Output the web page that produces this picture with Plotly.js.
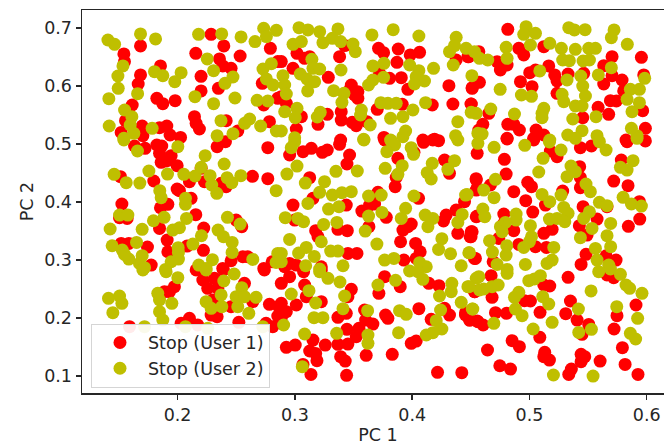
<!DOCTYPE html>
<html>
<head>
<meta charset="utf-8">
<script src="https://cdn.plot.ly/plotly-3.0.1.min.js"></script>
<style>html,body{margin:0;padding:0;background:#fff;overflow:hidden;width:664px;height:445px}#chart{width:674px;height:445px}</style>
</head>
<body>
<div id="chart"></div>
<script>
const seriesNames = ["Stop (User 1)", "Stop (User 2)"];
const xTitle = "PC 1";
const yTitle = "PC 2";
const xTicks = [0.2, 0.3, 0.4, 0.5, 0.6];
const yTicks = [0.1, 0.2, 0.3, 0.4, 0.5, 0.6, 0.7];

const user1Points = [
[.1542,.6552],[.1684,.6690],[.2286,.6891],[.2394,.6690],[.2155,.6563],[.2533,.6517],[.2791,.6650],[.2357,.6466],[.1547,.6420],[.1854,.6345],[.1684,.6190],[.1664,.6034],[.2200,.6167],[.2200,.5914],[.2348,.5960],[.2385,.6345],[.2456,.6305],[.1823,.5787],[.1874,.5695],[.1979,.5747],[.1613,.5672],[.2144,.5471],[.2158,.5356],[.2186,.5258],[.2414,.5402],[.2783,.5385],[.2722,.6046],[.2734,.5672],[.2854,.5787],[.1556,.5402],[.1698,.5310],[.1519,.5200],[.1908,.5310],[.1846,.5281],[.1936,.5155],[.2025,.5114],[.2513,.5224],[.1704,.5143],[.2854,.6420],
[.3018,.6563],[.3126,.6506],[.3083,.6477],[.3381,.6506],[.3424,.6696],[.2884,.6420],[.2984,.6305],[.3285,.6149],[.3713,.6650],[.3756,.6575],[.3881,.6638],[.3983,.6535],[.4063,.6581],[.3870,.6408],[.3722,.6218],[.3807,.6132],[.3907,.6144],[.3963,.5942],[.3481,.6017],[.3537,.5902],[.3537,.5787],[.3509,.5845],[.3466,.5931],[.4313,.6006],[.4347,.5689],[.4512,.5971],[.4503,.5689],[.4475,.6506],[.4375,.6448],[.3702,.5597],[.3915,.5683],[.4171,.5672],[.3395,.5557],[.3395,.5413],[.3197,.5339],[.3276,.5511],[.3055,.5471],[.3012,.5258],[.3489,.5373],[.3523,.5316],[.3614,.5385],[.2927,.5701],[.2884,.5816],[.3759,.5114],[.4191,.5080],[.4091,.5068],[.3390,.5068],
[.4815,.6977],[.5122,.6678],[.4909,.6650],[.4951,.6535],[.4724,.6419],[.4752,.6276],[.4809,.6362],[.4483,.6506],[.4568,.6592],[.5704,.6506],[.5954,.6494],[.5633,.6351],[.5704,.6178],[.5789,.6103],[.5633,.6034],[.5974,.6190],[.5164,.6345],[.5051,.6276],[.5002,.6230],[.5215,.6190],[.5235,.6086],[.4923,.6075],[.5022,.5988],[.5329,.6207],[.5462,.6218],[.5235,.5873],[.4573,.6063],[.4511,.5959],[.4502,.5689],[.4653,.5528],[.5690,.5747],[.5741,.5741],[.5585,.5632],[.5675,.5511],[.5965,.5574],[.5803,.5914],[.5454,.5454],[.4602,.5339],[.4815,.5339],[.4866,.5339],[.4914,.5241],[.5056,.5241],[.5122,.5155],[.5036,.5097],[.4809,.5097],[.5988,.5270],[.5823,.5068],[.4568,.5241],
[.1633,.4965],[.1723,.4925],[.1823,.4983],[.1865,.4965],[.1846,.4839],[.1945,.4799],[.1931,.4724],[.1860,.4684],[.1902,.4707],[.1996,.4626],[.2337,.4954],[.2408,.5040],[.2769,.4936],[.1513,.4436],[.1797,.4362],[.2101,.4350],[.2229,.4350],[.2201,.4580],[.2371,.4321],[.2414,.4264],[.2638,.4442],[.2769,.4402],[.1996,.4223],[.2016,.4195],[.2115,.4063],[.1917,.3959],[.1854,.3901],[.1525,.3965],[.1505,.3729],[.1570,.3717],[.2155,.3781],[.1846,.3545],[.2223,.3551],[.2499,.3689],[.2547,.3574],[.1911,.3344],[.1519,.3286],[.1584,.3286],[.1743,.3223],[.2081,.3240],[.2220,.3166],[.1917,.3142],[.1775,.2913],[.2385,.2855],[.2456,.2987],[.2556,.3056],[.2598,.3056],[.2735,.2855],[.2806,.2970],
[.2955,.4810],[.3069,.4868],[.3140,.4925],[.3234,.4856],[.3276,.4896],[.3381,.4994],[.3466,.4810],[.3444,.4655],[.3765,.5069],[.3878,.4752],[.4015,.4856],[.4097,.5028],[.4176,.5069],[.4225,.5057],[.4276,.4724],[.4318,.4494],[.3864,.4425],[.3855,.4264],[.3126,.4419],[.3154,.4063],[.2984,.3947],[.2998,.3689],[.3438,.3947],[.3708,.4166],[.3679,.3965],[.3637,.3947],[.3571,.3844],[.3779,.3735],[.4054,.4063],[.3992,.3620],[.3963,.3574],[.3921,.3516],[.4290,.3775],[.4267,.3672],[.4375,.3861],[.4389,.3459],[.4503,.3487],[.4494,.3401],[.4546,.4379],[.4546,.4206],[.4546,.3746],[.4446,.4005],[.3631,.3574],[.3447,.3505],[.3367,.3528],[.3177,.3505],[.3197,.3401],[.3901,.3315],[.4029,.3286],[.4068,.3142],[.4034,.3027],[.3929,.2999],[.3452,.3114],[.3529,.3114],[.4531,.3027],[.2955,.2941],[.3012,.2913],[.2913,.2884],[.3225,.2884],
[.4554,.4839],[.4809,.5086],[.5036,.5069],[.5434,.4936],[.5528,.4965],[.5832,.5040],[.5988,.5052],[.5178,.4879],[.5235,.4781],[.4786,.4735],[.4801,.4482],[.4545,.4402],[.4554,.4235],[.4667,.4293],[.5783,.4724],[.5718,.4361],[.5840,.4281],[.4866,.4178],[.4985,.4339],[.5017,.4264],[.4968,.4022],[.5028,.3827],[.5136,.3947],[.5283,.4189],[.5428,.4609],[.5434,.4419],[.5434,.4247],[.5457,.3919],[.5937,.4005],[.5661,.3919],[.5576,.3706],[.5425,.3591],[.5491,.3430],[.5940,.3706],[.5843,.3580],[.4781,.3792],[.4554,.3758],[.4866,.3505],[.4511,.3487],[.4502,.3401],[.4738,.3372],[.5122,.3459],[.5193,.3528],[.4909,.3269],[.5051,.3229],[.5144,.3217],[.4539,.3027],[.4690,.2970],[.5482,.3097],[.5653,.3073],[.5738,.2999],[.5440,.2924],[.4781,.3631],
[.1590,.1850],[.2101,.1994],[.2030,.1908],[.2172,.1879],[.1973,.2540],[.1931,.2454],[.1888,.2454],[.2158,.2828],[.2391,.2828],[.2215,.2655],[.2314,.2684],[.2257,.2511],[.2343,.2511],[.2570,.2598],[.2300,.2310],[.2337,.2023],[.2286,.2051],[.2456,.2195],[.2641,.2282],[.2522,.1925],[.2783,.2236],[.2862,.2195],[.2854,.2034],[.2754,.1908],[.2811,.1850],[.2740,.2828],
[.2955,.2713],[.2884,.2598],[.3083,.2569],[.3097,.2368],[.3225,.2282],[.3012,.2224],[.2884,.2253],[.2927,.2109],[.2884,.2000],[.3481,.2494],[.3452,.2368],[.3438,.2080],[.3367,.2011],[.3594,.2138],[.3603,.1965],[.3665,.1896],[.3546,.1822],[.3523,.1678],[.3444,.1804],[.3452,.1551],[.3367,.1546],[.3259,.1534],[.3154,.1620],[.3003,.1534],[.2927,.1494],[.3126,.1431],[.3177,.1390],[.3188,.1264],[.3390,.1333],[.3429,.1258],[.3608,.1356],[.3830,.1373],[.3069,.1200],[.3137,.1028],[.3441,.1011],[.4216,.1063],[.4423,.1057],[.3992,.1563],[.4034,.1603],[.4057,.2161],[.3773,.2051],[.3793,.1994],[.4162,.1977],[.4318,.2051],[.4276,.2167],[.4455,.2092],[.4489,.1965],[.4560,.1937],[.3716,.2425],[.3898,.2540],[.3765,.2713],[.4142,.2598],[.4228,.2557],[.4531,.2454],[.3074,.2799],[.3225,.2828],
[.4673,.2730],[.5329,.2701],[.5122,.2569],[.5173,.2552],[.4534,.2454],[.4681,.2356],[.5008,.2293],[.4957,.2299],[.5349,.2293],[.5908,.2224],[.5746,.2040],[.4710,.2092],[.4804,.2080],[.5090,.2097],[.5309,.2075],[.5406,.1965],[.5505,.1890],[.5448,.1718],[.5721,.1810],[.4454,.2052],[.4491,.1965],[.4554,.1948],[.4605,.1879],[.5088,.1666],[.4852,.1609],[.4914,.1505],[.4642,.1448],[.5792,.1488],[.5130,.1408],[.5122,.1333],[.5170,.1275],[.5440,.1373],[.5471,.1333],[.5440,.1247],[.5602,.1258],[.5815,.1200],[.4747,.1177],[.4838,.1120],[.5357,.1120],[.5335,.1028],[.5925,.1028],[.5661,.2741],[.5718,.2696]
];

const user2Points = [
[.1406,.6793],[.1463,.6719],[.1684,.6897],[.1812,.6811],[.2179,.6891],[.2376,.6897],[.2541,.6845],[.2660,.6765],[.2734,.6995],[.2842,.6960],[.2757,.6851],[.1534,.6345],[.1491,.6172],[.1494,.5960],[.1414,.5782],[.1659,.5868],[.1803,.6247],[.1874,.6178],[.2030,.6230],[.1976,.6075],[.2148,.5816],[.2307,.5695],[.2253,.6466],[.2307,.6264],[.2472,.6155],[.2404,.6046],[.2489,.5793],[.2678,.5753],[.2769,.5741],[.2728,.6293],[.2799,.6385],[.2757,.6121],[.2814,.6017],[.1548,.5586],[.1610,.5471],[.1417,.5310],[.1596,.5327],[.1627,.5183],[.1783,.5270],[.2370,.5402],[.2572,.5356],[.2614,.5431],[.2708,.5310],[.2337,.5143],[.2472,.5178],[.2842,.5224],[.1542,.5097],
[.3035,.7006],[.3111,.6966],[.3211,.6937],[.3367,.6983],[.2984,.6719],[.3055,.6765],[.3239,.6747],[.3319,.6822],[.3390,.6765],[.3495,.6724],[.3515,.6592],[.3657,.6880],[.3838,.6971],[.4057,.6862],[.4375,.6839],[.4318,.6592],[.4361,.6696],[.4460,.6650],[.4531,.6592],[.4574,.6477],[.4350,.6362],[.4509,.6178],[.3145,.6460],[.3154,.6305],[.3211,.6293],[.3393,.6276],[.3046,.6207],[.3103,.6121],[.3168,.6075],[.3109,.5914],[.2898,.6178],[.2913,.6017],[.2927,.5862],[.2913,.5557],[.3018,.5615],[.3003,.5454],[.3216,.5546],[.3191,.5465],[.3330,.5919],[.3418,.5873],[.3401,.5718],[.3566,.5586],[.3560,.5500],[.3642,.5327],[.3628,.6017],[.3665,.6103],[.3756,.6149],[.3665,.6345],[.3759,.6391],[.3978,.6362],[.4057,.6264],[.4034,.6161],[.4105,.6086],[.4020,.6034],[.4182,.6305],[.3733,.5712],[.3793,.5701],[.3864,.5701],[.4114,.5712],[.4006,.5586],[.3921,.5471],[.3816,.5442],[.4389,.5385],[.3944,.5224],[.3921,.5126],[.4370,.5143],[.4560,.5183],[.4503,.5546],[.4546,.5528],[.3586,.5080],[.3816,.5068],[.2998,.5108],[.2884,.5224],
[.4971,.7023],[.4951,.6891],[.5051,.6908],[.5008,.6707],[.4801,.6667],[.4809,.6477],[.4644,.6448],[.5173,.6736],[.5272,.6650],[.5391,.6632],[.5505,.6650],[.5562,.6650],[.5283,.6448],[.5340,.6437],[.5457,.6431],[.5511,.6448],[.5335,.7006],[.5383,.6966],[.5474,.6971],[.5721,.6966],[.5698,.6833],[.5834,.6719],[.5698,.6316],[.5088,.6259],[.4750,.5942],[.4931,.5845],[.5017,.5821],[.5320,.6103],[.5437,.6172],[.5454,.5999],[.5477,.5827],[.5278,.5856],[.5292,.5730],[.5391,.5655],[.5448,.5655],[.5587,.6190],[.5860,.5942],[.5937,.5942],[.5982,.6132],[.5832,.5770],[.5937,.5712],[.5874,.5557],[.4670,.5603],[.4872,.5517],[.5122,.5615],[.5107,.5528],[.5107,.5454],[.5369,.5431],[.5567,.5471],[.5869,.5270],[.5448,.5229],[.5326,.5155],[.5391,.5097],[.5576,.5143],[.5917,.5143],[.4596,.5172],[.5173,.5068],
[.1542,.5069],[.1658,.4879],[.2002,.4954],[.2235,.4799],[.2397,.4655],[.1459,.4477],[.1562,.4333],[.1678,.4327],[.1755,.4534],[.1914,.4482],[.2053,.4477],[.2149,.4448],[.2201,.4597],[.2277,.4454],[.2291,.4293],[.2334,.4149],[.2422,.4419],[.2462,.4333],[.2539,.4454],[.2840,.4195],[.1848,.4195],[.1860,.4074],[.2067,.4063],[.2067,.3959],[.1505,.3775],[.1576,.3775],[.1885,.3735],[.1794,.3677],[.2076,.3717],[.1425,.3534],[.1698,.3528],[.1959,.3516],[.2016,.3556],[.2203,.3418],[.2345,.3516],[.2391,.3401],[.2425,.3735],[.2533,.3620],[.2465,.3303],[.2465,.3131],[.1442,.3246],[.1528,.3171],[.1547,.3096],[.1584,.3016],[.1650,.3303],[.1698,.3074],[.1675,.2941],[.2005,.3212],[.2007,.3131],[.2130,.3275],[.2007,.3016],[.1945,.2970],[.2181,.2913],[.2297,.3005],[.2641,.3010],[.2854,.3114],[.2840,.2959],[.1718,.2867],[.1897,.2838],[.2243,.2855],
[.3589,.5069],[.3821,.5052],[.3850,.4983],[.3784,.4868],[.2998,.5040],[.2969,.4937],[.3991,.4937],[.4011,.4821],[.4171,.4666],[.3915,.4626],[.3878,.4477],[.4128,.4505],[.4162,.4396],[.4304,.4563],[.4361,.4712],[.3770,.4580],[.3532,.4534],[.3350,.4528],[.3018,.4620],[.2932,.4482],[.3089,.4327],[.3253,.4350],[.3211,.4166],[.3319,.4120],[.3401,.4160],[.3481,.4178],[.3628,.4103],[.3736,.4120],[.4015,.4103],[.3111,.3976],[.3287,.3878],[.3376,.3919],[.3944,.3890],[.3907,.3717],[.3742,.3821],[.3628,.3758],[.4111,.3775],[.4176,.3717],[.4134,.3574],[.4426,.3786],[.4389,.3648],[.2918,.3729],[.3026,.3717],[.3074,.3660],[.3245,.3614],[.3358,.3648],[.3600,.3499],[.4455,.4120],[.2955,.3355],[.3225,.3315],[.3699,.3275],[.4253,.3367],[.4225,.3183],[.4327,.3108],[.4483,.3125],[.3097,.3217],[.3032,.3120],[.3165,.3062],[.3305,.3154],[.3367,.3154],[.2884,.3114],[.3765,.2999],[.3844,.3027],[.4063,.2953],[.4120,.2884],[.3092,.2901],[.3410,.2901],[.4418,.2901],[.3211,.2844],[.2884,.2970],[.4389,.5069],[.4560,.5011],
[.4698,.4942],[.4960,.4977],[.5170,.5034],[.5269,.4896],[.5116,.4752],[.5079,.4517],[.5354,.4620],[.5391,.4522],[.5320,.4436],[.5482,.4310],[.5519,.4178],[.5653,.4896],[.5596,.5040],[.5917,.5097],[.5883,.4712],[.5775,.4597],[.5832,.4551],[.4710,.4390],[.4610,.4206],[.4468,.4131],[.4698,.4074],[.5107,.4131],[.5173,.4005],[.5269,.4120],[.5798,.4080],[.5869,.3965],[.5954,.3930],[.5596,.3994],[.5661,.3936],[.5292,.3907],[.5329,.3804],[.4602,.3878],[.4619,.3746],[.4886,.3792],[.4886,.3689],[.4795,.3648],[.4752,.3574],[.4767,.3487],[.5008,.3591],[.5170,.3706],[.5235,.3717],[.5301,.3660],[.5511,.3832],[.5462,.3717],[.5533,.3545],[.5692,.3631],[.5661,.3419],[.5692,.3229],[.5434,.3384],[.4659,.3332],[.4806,.3246],[.4801,.3085],[.4684,.3137],[.4488,.3125],[.5017,.3401],[.4999,.3315],[.4951,.3217],[.5207,.3217],[.5562,.3200],[.5576,.2999],[.5193,.2999],[.5150,.2941],[.4965,.2924],[.4724,.2924],[.5675,.2913],[.4809,.2838],
[.1411,.2339],[.1505,.2379],[.1525,.2253],[.1448,.2092],[.1902,.2799],[.2002,.2695],[.1704,.2828],[.1831,.2425],[.1846,.2310],[.1951,.2253],[.1846,.2109],[.1874,.1965],[.1718,.1850],[.2067,.1850],[.2257,.1822],[.2726,.1850],[.2243,.2828],[.2394,.2638],[.2482,.2759],[.2547,.2523],[.2499,.2368],[.2371,.2397],[.2243,.2281],[.2286,.2167],[.2377,.2195],[.2513,.2195],[.2570,.2368],[.2669,.2356],[.2607,.2080],
[.3211,.2799],[.3282,.2684],[.3384,.2621],[.2969,.2414],[.3120,.2471],[.3177,.2259],[.3424,.2379],[.3410,.2161],[.3163,.2005],[.3239,.2005],[.2904,.1879],[.3083,.1724],[.3356,.1735],[.3620,.2126],[.3623,.1706],[.3623,.1563],[.3063,.1160],[.3858,.2649],[.3708,.2569],[.3892,.2126],[.3949,.2063],[.3884,.1747],[.4120,.1707],[.4176,.1747],[.4253,.1810],[.4205,.1954],[.4242,.2138],[.4233,.2379],[.4338,.2598],[.4333,.2454],[.4475,.2540],[.4418,.2270],[.4512,.2155],[.4574,.2483],[.3978,.2810],[.4049,.2799],[.4091,.2667],[.4546,.2684],
[.4994,.2644],[.5042,.2673],[.5093,.2730],[.4809,.2770],[.4568,.2713],[.4483,.2540],[.4610,.2500],[.4681,.2540],[.4733,.2569],[.4909,.2442],[.4872,.2356],[.5113,.2368],[.5164,.2241],[.4880,.2155],[.4937,.2040],[.4517,.2155],[.4696,.1908],[.5031,.1810],[.5193,.1925],[.5525,.2466],[.5417,.2155],[.5420,.1752],[.5528,.1804],[.5744,.2195],[.5922,.1994],[.5959,.2425],[.5823,.2569],[.5854,.2511],[.5860,.1735],[.5905,.1638],[.5590,.2799],[.5690,.2845],[.5775,.2753],[.5204,.1017],[.5542,.0999]
];

const fontFamily = "DejaVu Sans, sans-serif";
const inkColor = "#262626";
const fontPx = 17.5;

const traces = [
  {type: "scatter", mode: "markers", name: seriesNames[0],
   x: user1Points.map(p => p[0]), y: user1Points.map(p => p[1]),
   marker: {color: "#ff0000", size: 13, line: {width: 0}}},
  {type: "scatter", mode: "markers", name: seriesNames[1],
   x: user2Points.map(p => p[0]), y: user2Points.map(p => p[1]),
   marker: {color: "#bfbf00", size: 13, line: {width: 0}}}
];

const layout = {
  width: 674, height: 445,
  margin: {l: 82, r: 0, t: 10, b: 52, pad: 0},
  paper_bgcolor: "#fff", plot_bgcolor: "#fff",
  font: {family: fontFamily, size: fontPx, color: inkColor},
  showlegend: true,
  legend: {
    x: 0.0152, y: 0.014, xanchor: "left", yanchor: "bottom",
    bgcolor: "rgba(255,255,255,0.92)", bordercolor: "#d5d5d5", borderwidth: 1,
    font: {family: fontFamily, size: fontPx, color: inkColor},
    itemsizing: "trace", itemwidth: 46, tracegroupgap: 0
  },
  xaxis: {
    range: [0.1185, 0.6232], tickmode: "array", tickvals: xTicks, ticktext: xTicks.map(v => v.toFixed(1)),
    ticks: "outside", ticklen: 5, tickwidth: 1.4, tickcolor: inkColor,
    showgrid: false, zeroline: false, showline: true, linecolor: inkColor, linewidth: 1.5, mirror: true,
    tickfont: {size: fontPx},
    title: {text: xTitle, font: {family: fontFamily, size: fontPx, color: inkColor}, standoff: 8}
  },
  yaxis: {
    range: [0.0707, 0.731], tickmode: "array", tickvals: yTicks, ticktext: yTicks.map(v => v.toFixed(1)),
    ticks: "outside", ticklen: 5, tickwidth: 1.4, tickcolor: inkColor,
    showgrid: false, zeroline: false, showline: true, linecolor: inkColor, linewidth: 1.5, mirror: false,
    tickfont: {size: fontPx},
    title: {text: yTitle, font: {family: fontFamily, size: fontPx, color: inkColor}, standoff: 6}
  }
};

Plotly.newPlot("chart", traces, layout, {displayModeBar: false, staticPlot: true});
</script>
</body>
</html>
